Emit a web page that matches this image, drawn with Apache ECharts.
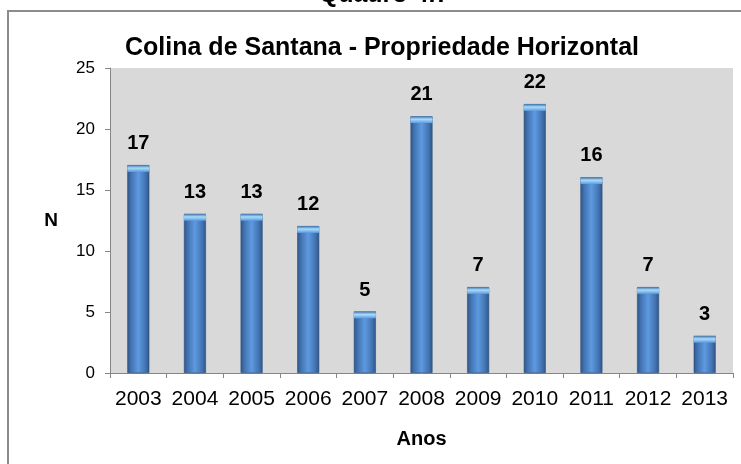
<!DOCTYPE html>
<html>
<head>
<meta charset="utf-8">
<script src="https://cdn.jsdelivr.net/npm/echarts@6/dist/echarts.min.js"></script>
<style>
  html, body { margin: 0; padding: 0; background: #fff; }
  #chart { width: 741px; height: 464px; }
</style>
</head>
<body>
<div id="chart"></div>
<script>
// Registos de propriedade horizontal por ano
const anos = ['2003', '2004', '2005', '2006', '2007', '2008', '2009', '2010', '2011', '2012', '2013'];
const valores = [17, 13, 13, 12, 5, 21, 7, 22, 16, 7, 3];
const yTicks = [0, 5, 10, 15, 20, 25];

const FONT = 'Liberation Sans, Arial, sans-serif';
const AXIS_GRAY = '#868686';

const chart = echarts.init(document.getElementById('chart'), null, { renderer: 'canvas' });

// cylinder-like shading across the bar width
const barFill = new echarts.graphic.LinearGradient(0, 0, 1, 0, [
  { offset: 0, color: '#2f5687' },
  { offset: 0.18, color: '#4374b3' },
  { offset: 0.5, color: '#5e9ae0' },
  { offset: 0.82, color: '#4374b3' },
  { offset: 1, color: '#2f5687' }
]);
const capFill = new echarts.graphic.LinearGradient(0, 0, 0, 1, [
  { offset: 0, color: '#3c6aa3' },
  { offset: 0.45, color: '#a8dcfa' },
  { offset: 1, color: '#5e9ae0' }
]);

chart.setOption({
  animation: false,
  backgroundColor: '#ffffff',
  title: [
    {
      text: 'Quadro 4.7',
      left: 379, textAlign: 'center', top: -22,
      textStyle: { fontFamily: FONT, fontSize: 25, fontWeight: 'bold', color: '#000' }
    },
    {
      text: 'Colina de Santana - Propriedade Horizontal',
      left: 377, textAlign: 'center', top: 31,
      textStyle: { fontFamily: FONT, fontSize: 25, fontWeight: 'bold', color: '#000' }
    }
  ],
  graphic: [
    {
      type: 'rect', silent: true, z: -1,
      shape: { x: 8, y: 11, width: 780, height: 500 },
      style: { fill: 'none', stroke: '#8c8c8c', lineWidth: 2 }
    }
  ],
  grid: {
    left: 110, right: 8, top: 68, bottom: 91,
    show: true, backgroundColor: '#d9d9d9', borderWidth: 0
  },
  xAxis: {
    type: 'category',
    data: anos,
    name: 'Anos',
    nameLocation: 'middle',
    nameGap: 56,
    nameTextStyle: { fontFamily: FONT, fontSize: 20, fontWeight: 'bold', color: '#000' },
    axisLine: { lineStyle: { color: AXIS_GRAY, width: 1 } },
    axisTick: { show: true, length: 5, lineStyle: { color: AXIS_GRAY } },
    axisLabel: { fontFamily: FONT, fontSize: 21, color: '#000', margin: 16, interval: 0 }
  },
  yAxis: {
    type: 'value',
    min: yTicks[0], max: yTicks[yTicks.length - 1], interval: 5,
    name: 'N',
    nameLocation: 'middle',
    nameRotate: 0,
    nameGap: 52,
    nameTextStyle: { fontFamily: FONT, fontSize: 19, fontWeight: 'bold', color: '#000' },
    axisLine: { show: true, lineStyle: { color: AXIS_GRAY, width: 1 } },
    axisTick: { show: true, length: 5, lineStyle: { color: AXIS_GRAY } },
    splitLine: { show: false },
    axisLabel: { fontFamily: FONT, fontSize: 17, color: '#000', margin: 15 }
  },
  series: [
    {
      type: 'bar',
      data: valores,
      barWidth: 22,
      itemStyle: { color: barFill, borderColor: '#2a4e7c', borderWidth: 0.6 },
      label: {
        show: true, position: 'top', distance: 12,
        fontFamily: FONT, fontSize: 20, fontWeight: 'bold', color: '#000'
      }
    },
    {
      // light top rim of each bar
      type: 'pictorialBar',
      data: valores,
      symbol: 'rect',
      symbolSize: [22, 7],
      symbolPosition: 'end',
      symbolOffset: [0, '-10%'],
      itemStyle: { color: capFill },
      z: 3,
      silent: true
    }
  ]
});
</script>
</body>
</html>
